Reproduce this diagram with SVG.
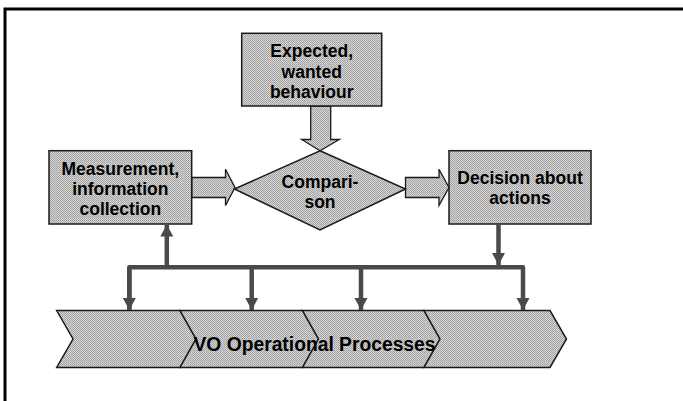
<svg xmlns="http://www.w3.org/2000/svg" width="683" height="401" viewBox="0 0 683 401">
  <defs>
    <!-- halftone grey used for all shape fills -->
    <pattern id="dither" width="2" height="2" patternUnits="userSpaceOnUse">
      <rect width="2" height="2" fill="#d6d6d6"/>
      <rect x="0" y="0" width="1" height="1" fill="#9e9e9e"/>
      <rect x="1" y="1" width="1" height="1" fill="#a8a8a8"/>
    </pattern>
    <marker id="head" viewBox="0 0 12 16" refX="12" refY="8" markerWidth="12" markerHeight="16" markerUnits="userSpaceOnUse" orient="auto">
      <path d="M0,1.5 L12,8 L0,14.5 Z" fill="#4a4a4a"/>
    </marker>
  </defs>
  <style>
    .box { fill: url(#dither); stroke: #1a1a1a; stroke-width: 1.5; }
    .blk { fill: url(#dither); stroke: #1a1a1a; stroke-width: 1.3; stroke-linejoin: miter; }
    .lbl { font-family: "Liberation Sans", Arial, sans-serif; font-weight: bold; font-size: 17.5px; fill: #000; text-anchor: middle; }
    .big { font-family: "Liberation Sans", Arial, sans-serif; font-weight: bold; font-size: 19.5px; fill: #000; }
    .wire { fill: none; stroke: #4a4a4a; stroke-width: 4.5; stroke-linejoin: round; }
    .frame { fill: none; stroke: #000; stroke-width: 3; }
  </style>

  <!-- outer frame (top and left edges) -->
  <path class="frame" d="M5,401 V9 H683"/>

  <!-- process chevrons -->
  <g id="processes">
    <path class="box" d="M56.7,310.5 H180 L196,339 L180,367.5 H56.7 L73,339 Z"/>
    <path class="box" d="M180,310.5 H302.5 L318.5,339 L302.5,367.5 H180 L196,339 Z"/>
    <path class="box" d="M302.5,310.5 H424 L440,339 L424,367.5 H302.5 L318.5,339 Z"/>
    <path class="box" d="M424,310.5 H550 L566.5,339 L550,367.5 H424 L440,339 Z"/>
    <text class="big" x="193.5" y="350.7" textLength="242" lengthAdjust="spacingAndGlyphs">VO Operational Processes</text>
  </g>

  <!-- block arrows between the control steps -->
  <g id="flow-arrows">
    <path class="blk" d="M310.7,106 H330.7 V139.5 H339.3 L320,150.7 L301.7,139.5 H310.7 Z"/>
    <path class="blk" d="M191.7,177.5 H225.5 V169.3 L235,187.5 L225.5,205.5 V197.5 H191.7 Z"/>
    <path class="blk" d="M405.5,177.5 H439 V169.3 L449,187.5 L439,205.5 V197.5 H405.5 Z"/>
  </g>

  <g id="expected">
    <rect class="box" x="241.7" y="33.3" width="140" height="72.7"/>
    <text class="lbl" x="311.7" y="57">Expected,</text>
    <text class="lbl" x="311.7" y="77.5">wanted</text>
    <text class="lbl" x="311.7" y="98">behaviour</text>
  </g>

  <g id="measurement">
    <rect class="box" x="49" y="150.7" width="142.7" height="73.3"/>
    <text class="lbl" x="120.3" y="175">Measurement,</text>
    <text class="lbl" x="120.3" y="195">information</text>
    <text class="lbl" x="120.3" y="214.5">collection</text>
  </g>

  <g id="comparison">
    <path class="box" d="M320,150.7 L405.5,189 L320,230 L234.5,189 Z"/>
    <text class="lbl" x="320" y="187.5">Compari-</text>
    <text class="lbl" x="320" y="208">son</text>
  </g>

  <g id="decision">
    <rect class="box" x="449" y="150.7" width="142" height="73.3"/>
    <text class="lbl" x="520" y="184.3">Decision about</text>
    <text class="lbl" x="520" y="204.3">actions</text>
  </g>

  <!-- feedback bus to and from the operational processes -->
  <g id="connectors">
    <path class="wire" d="M129.3,310 V267.3 H523 V310" marker-end="url(#head)"/>
    <path class="wire" d="M129.3,267.3 V310" marker-end="url(#head)"/>
    <path class="wire" d="M251.7,267.3 V310" marker-end="url(#head)"/>
    <path class="wire" d="M361,267.3 V310" marker-end="url(#head)"/>
    <path class="wire" d="M166.8,267.3 V224.5" marker-end="url(#head)"/>
    <path class="wire" d="M498.5,224.5 V265" marker-end="url(#head)"/>
  </g>
</svg>
